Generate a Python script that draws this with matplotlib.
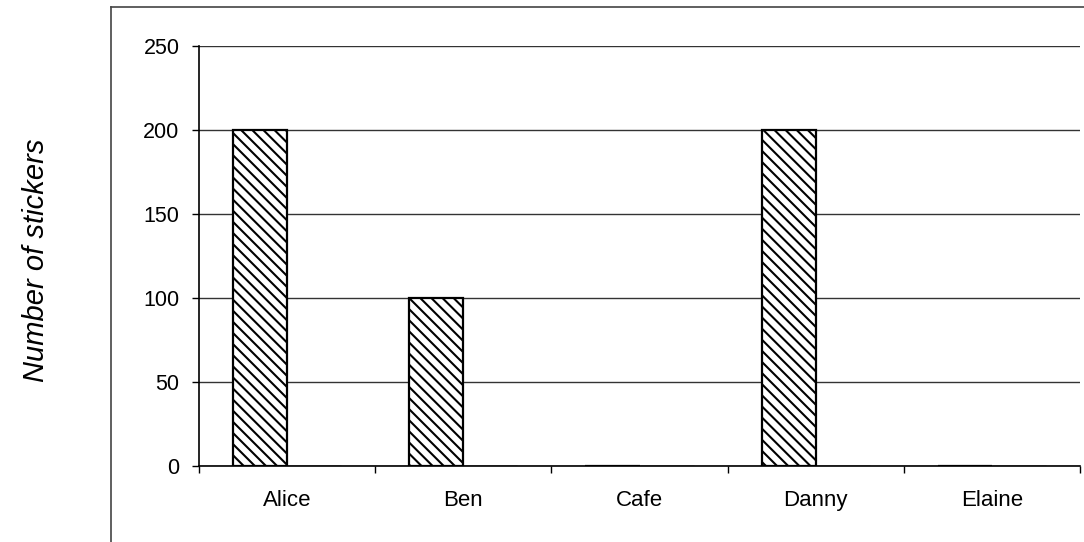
import matplotlib
matplotlib.use("Agg")
import matplotlib.pyplot as plt
import numpy as np
from matplotlib.lines import Line2D

names = ["Alice", "Ben", "Cafe", "Danny", "Elaine"]
stickers = [200, 100, 0, 200, 0]
second = [0, 0, 0, 0, 0]
yticks = [0, 50, 100, 150, 200, 250]

plt.rcParams['font.family'] = ['Liberation Sans', 'DejaVu Sans']
plt.rcParams['hatch.linewidth'] = 1.5

fig = plt.figure(figsize=(10.84, 5.42), dpi=100)
ax = fig.add_axes([199/1084, 1-466/542, (1080-199)/1084, 420/542])

x = np.arange(len(names))
w = 54/176
ax.bar(x - w/2, stickers, width=w, color='white', edgecolor='black',
       linewidth=1.6, hatch='\\\\\\', zorder=3)
ax.bar(x + w/2, second, width=w, color='white', edgecolor='black',
       linewidth=1.0, zorder=3)

ax.set_xlim(-0.5, len(names) - 0.5)
ax.set_ylim(0, 250)
ax.set_yticks(yticks)
ax.set_yticklabels([str(v) for v in yticks], fontsize=15.5)
ax.yaxis.grid(True, color='#333333', linewidth=1.0, zorder=0)
ax.set_axisbelow(True)

ax.set_xticks(np.arange(len(names) + 1) - 0.5)
ax.set_xticklabels([])
ax.set_xticks(x, minor=True)
ax.set_xticklabels(names, minor=True, fontsize=16)
ax.tick_params(axis='x', which='major', length=5, direction='out', width=1)
ax.tick_params(axis='x', which='minor', length=0, pad=17)
ax.tick_params(axis='y', length=5, width=1, pad=9)

for s in ['top', 'right']:
    ax.spines[s].set_visible(False)
ax.spines['left'].set_linewidth(1.2)
ax.spines['bottom'].set_linewidth(1.2)

fig.text(36/1084, 1-260/542, "Number of stickers", rotation=90, fontsize=21,
         style='italic', ha='center', va='center')

# outer frame of the worksheet box
fig.add_artist(Line2D([111/1084, 111/1084], [0, 1-7/542], transform=fig.transFigure,
                      color='#444444', linewidth=1.2))
fig.add_artist(Line2D([111/1084, 1], [1-7/542, 1-7/542], transform=fig.transFigure,
                      color='#444444', linewidth=1.2))

fig.savefig("out.png", dpi=100)
